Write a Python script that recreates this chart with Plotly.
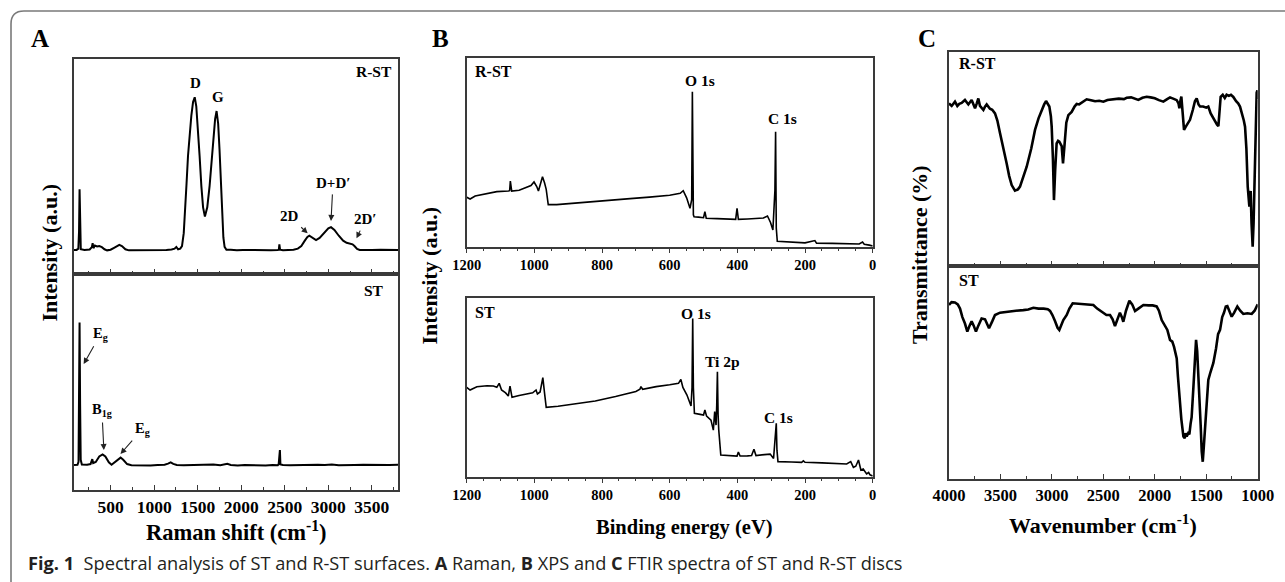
import plotly.graph_objects as go

# ---------------- data ----------------
# Panel A: Raman, R-ST (top) -- Raman shift (cm-1) / relative intensity
raman_rst_x = [80, 110, 130, 138, 144, 150, 158, 200, 260, 285,
               294, 303, 320, 345, 370, 400, 430, 460, 500, 540,
               580, 600, 630, 670, 710, 760, 820, 900, 980, 1060,
               1140, 1200, 1235, 1255, 1275, 1300, 1320, 1340, 1355, 1372,
               1389, 1408, 1427, 1447, 1466, 1484, 1503, 1522, 1542, 1562,
               1583, 1610, 1637, 1660, 1683, 1700, 1717, 1735, 1751, 1766,
               1781, 1795, 1809, 1830, 1880, 1950, 2020, 2100, 2180, 2260,
               2340, 2420, 2432, 2438, 2446, 2480, 2540, 2600, 2650, 2690,
               2730, 2760, 2782, 2810, 2859, 2900, 2950, 3000, 3031, 3070,
               3120, 3170, 3210, 3250, 3278, 3300, 3330, 3360, 3420, 3500,
               3600, 3700, 3800]
raman_rst_y = [0.112, 0.112, 0.118, 0.200, 0.394, 0.200, 0.115, 0.112, 0.114, 0.125,
               0.143, 0.120, 0.132, 0.128, 0.130, 0.125, 0.115, 0.110, 0.113, 0.122,
               0.133, 0.136, 0.130, 0.115, 0.110, 0.110, 0.112, 0.111, 0.113, 0.110,
               0.112, 0.114, 0.118, 0.126, 0.115, 0.118, 0.130, 0.190, 0.280, 0.420,
               0.550, 0.660, 0.735, 0.800, 0.822, 0.780, 0.685, 0.550, 0.410, 0.310,
               0.267, 0.310, 0.410, 0.530, 0.630, 0.720, 0.758, 0.700, 0.577, 0.420,
               0.270, 0.170, 0.126, 0.113, 0.113, 0.110, 0.112, 0.111, 0.113, 0.112,
               0.111, 0.112, 0.113, 0.138, 0.113, 0.111, 0.112, 0.113, 0.118, 0.130,
               0.155, 0.172, 0.178, 0.172, 0.158, 0.168, 0.190, 0.212, 0.218, 0.205,
               0.178, 0.155, 0.145, 0.140, 0.138, 0.130, 0.117, 0.112, 0.111, 0.112,
               0.113, 0.111, 0.112]

# Panel A: Raman, ST (bottom)
raman_st_x = [80, 120, 132, 138, 144, 150, 157, 170, 230, 270,
              290, 300, 330, 370, 408, 440, 480, 511, 550, 590,
              615, 645, 690, 740, 800, 880, 960, 1040, 1120, 1160,
              1190, 1220, 1260, 1340, 1420, 1500, 1600, 1680, 1760, 1840,
              1880, 1960, 2040, 2120, 2200, 2280, 2360, 2420, 2430, 2436,
              2444, 2450, 2480, 2560, 2640, 2720, 2800, 2880, 2960, 3040,
              3120, 3200, 3300, 3400, 3500, 3600, 3700, 3800]
raman_st_y = [0.116, 0.117, 0.130, 0.400, 0.775, 0.400, 0.140, 0.118, 0.117, 0.120,
              0.143, 0.125, 0.130, 0.155, 0.165, 0.155, 0.128, 0.117, 0.130, 0.146,
              0.150, 0.140, 0.120, 0.115, 0.114, 0.116, 0.114, 0.116, 0.117, 0.122,
              0.128, 0.121, 0.116, 0.115, 0.116, 0.114, 0.116, 0.118, 0.115, 0.121,
              0.116, 0.114, 0.116, 0.115, 0.116, 0.114, 0.116, 0.115, 0.120, 0.185,
              0.185, 0.118, 0.116, 0.115, 0.116, 0.117, 0.119, 0.117, 0.116, 0.118,
              0.115, 0.117, 0.116, 0.117, 0.116, 0.118, 0.116, 0.117]

# Panel B: XPS, R-ST (top) -- binding energy (eV) / relative intensity
xps_rst_x = [1200, 1190, 1175, 1150, 1111, 1077, 1073, 1071, 1067, 1045,
             1023, 1010, 1001, 993, 988, 982, 976, 970, 965, 959,
             934, 880, 820, 760, 717, 660, 600, 569, 560, 550,
             540, 535, 533, 530, 528, 515, 500, 496, 492, 460,
             430, 405, 401, 397, 370, 340, 323, 311, 302, 295,
             289, 287, 285, 282, 250, 225, 200, 171, 166, 120,
             80, 40, 30, 25, 10, 0]
xps_rst_y = [0.263, 0.254, 0.270, 0.280, 0.293, 0.296, 0.298, 0.349, 0.296, 0.300,
             0.316, 0.325, 0.344, 0.320, 0.296, 0.330, 0.372, 0.340, 0.305, 0.224,
             0.224, 0.232, 0.242, 0.250, 0.256, 0.264, 0.274, 0.284, 0.298, 0.260,
             0.205, 0.250, 0.822, 0.170, 0.160, 0.158, 0.155, 0.187, 0.152, 0.150,
             0.148, 0.146, 0.205, 0.146, 0.148, 0.150, 0.153, 0.164, 0.130, 0.090,
             0.300, 0.610, 0.100, 0.030, 0.026, 0.025, 0.022, 0.034, 0.020, 0.019,
             0.017, 0.016, 0.026, 0.015, 0.010, 0.005]

# Panel B: XPS, ST (bottom)
xps_st_x = [1200, 1190, 1170, 1140, 1121, 1111, 1104, 1097, 1085, 1077,
            1072, 1066, 1045, 1023, 1005, 995, 991, 983, 975, 970,
            965, 930, 880, 820, 760, 700, 688, 685, 680, 640,
            600, 574, 567, 561, 549, 537, 534, 532, 530, 527,
            510, 500, 496, 491, 478, 474, 471, 467, 463, 461,
            459, 457, 455, 449, 430, 401, 397, 392, 370, 358,
            351, 345, 320, 303, 293, 288, 285, 283, 280, 240,
            210, 205, 200, 150, 100, 77, 65, 57, 50, 42,
            35, 28, 18, 12, 8, 0]
xps_st_y = [0.501, 0.486, 0.504, 0.510, 0.508, 0.501, 0.523, 0.486, 0.470, 0.452,
            0.508, 0.445, 0.455, 0.464, 0.470, 0.486, 0.464, 0.475, 0.555, 0.470,
            0.389, 0.395, 0.410, 0.425, 0.450, 0.478, 0.490, 0.505, 0.490, 0.505,
            0.515, 0.523, 0.545, 0.500, 0.458, 0.397, 0.500, 0.886, 0.500, 0.356,
            0.350, 0.346, 0.374, 0.340, 0.318, 0.290, 0.262, 0.365, 0.290, 0.400,
            0.588, 0.350, 0.262, 0.123, 0.120, 0.117, 0.140, 0.117, 0.118, 0.120,
            0.155, 0.120, 0.125, 0.128, 0.104, 0.200, 0.300, 0.150, 0.086, 0.084,
            0.082, 0.090, 0.082, 0.079, 0.076, 0.073, 0.086, 0.054, 0.060, 0.095,
            0.039, 0.045, 0.017, 0.025, 0.012, 0.006]

# Panel C: FTIR, R-ST (top) -- wavenumber (cm-1) / relative transmittance
ftir_rst_x = [4000, 3974, 3942, 3919, 3900, 3877, 3845, 3812, 3780, 3747,
              3730, 3715, 3699, 3666, 3650, 3634, 3602, 3580, 3553, 3530,
              3504, 3470, 3440, 3415, 3391, 3359, 3330, 3310, 3280, 3245,
              3200, 3164, 3130, 3099, 3075, 3057, 3040, 3025, 3010, 3002,
              2990, 2980, 2968, 2954, 2940, 2928, 2905, 2892, 2880, 2860,
              2840, 2808, 2780, 2759, 2735, 2711, 2690, 2662, 2620, 2580,
              2540, 2500, 2460, 2403, 2350, 2300, 2273, 2230, 2200, 2160,
              2120, 2079, 2040, 2000, 1960, 1917, 1880, 1852, 1810, 1787,
              1770, 1761, 1752, 1742, 1730, 1716, 1700, 1680, 1658, 1630,
              1610, 1593, 1575, 1560, 1530, 1500, 1480, 1457, 1420, 1395,
              1382, 1370, 1360, 1340, 1320, 1302, 1280, 1260, 1237, 1210,
              1190, 1172, 1150, 1135, 1123, 1110, 1097, 1088, 1081, 1074,
              1068, 1060, 1049, 1040, 1029, 1020, 1010, 1003, 1000]
ftir_rst_y = [0.760, 0.748, 0.768, 0.748, 0.758, 0.762, 0.776, 0.755, 0.776, 0.737,
              0.760, 0.783, 0.748, 0.729, 0.745, 0.755, 0.735, 0.730, 0.713, 0.680,
              0.620, 0.550, 0.480, 0.420, 0.378, 0.352, 0.358, 0.371, 0.410, 0.464,
              0.550, 0.636, 0.690, 0.729, 0.755, 0.771, 0.760, 0.745, 0.700, 0.651,
              0.500, 0.308, 0.450, 0.573, 0.585, 0.581, 0.560, 0.480, 0.550, 0.670,
              0.705, 0.720, 0.745, 0.757, 0.755, 0.762, 0.772, 0.779, 0.775, 0.770,
              0.772, 0.768, 0.776, 0.779, 0.782, 0.780, 0.786, 0.788, 0.782, 0.776,
              0.786, 0.791, 0.788, 0.784, 0.775, 0.768, 0.780, 0.788, 0.780, 0.775,
              0.760, 0.737, 0.770, 0.792, 0.720, 0.636, 0.650, 0.665, 0.683, 0.730,
              0.770, 0.783, 0.755, 0.745, 0.745, 0.740, 0.745, 0.713, 0.680, 0.660,
              0.654, 0.720, 0.791, 0.800, 0.785, 0.800, 0.795, 0.800, 0.790, 0.770,
              0.760, 0.745, 0.710, 0.680, 0.651, 0.550, 0.371, 0.300, 0.277, 0.340,
              0.350, 0.200, 0.090, 0.200, 0.400, 0.650, 0.810, 0.820, 0.780]

# Panel C: FTIR, ST (bottom)
ftir_st_x = [4000, 3975, 3942, 3915, 3893, 3870, 3845, 3822, 3800, 3780,
             3760, 3738, 3715, 3683, 3650, 3630, 3611, 3580, 3553, 3504,
             3450, 3407, 3350, 3278, 3230, 3180, 3130, 3080, 3040, 3018,
             2995, 2970, 2945, 2928, 2910, 2889, 2856, 2830, 2798, 2750,
             2700, 2650, 2597, 2560, 2516, 2470, 2435, 2410, 2387, 2365,
             2339, 2320, 2306, 2280, 2247, 2220, 2192, 2160, 2111, 2060,
             2020, 1982, 1960, 1933, 1900, 1878, 1852, 1830, 1813, 1800,
             1787, 1775, 1761, 1742, 1722, 1709, 1700, 1690, 1675, 1664,
             1652, 1642, 1625, 1610, 1599, 1588, 1577, 1565, 1554, 1544,
             1534, 1524, 1512, 1495, 1480, 1460, 1431, 1405, 1385, 1366,
             1345, 1328, 1310, 1295, 1275, 1253, 1230, 1198, 1170, 1140,
             1100, 1080, 1058, 1030, 1000]
ftir_st_y = [0.817, 0.830, 0.829, 0.820, 0.800, 0.760, 0.730, 0.692, 0.720, 0.740,
             0.720, 0.692, 0.720, 0.754, 0.750, 0.730, 0.708, 0.740, 0.770, 0.781,
             0.785, 0.789, 0.790, 0.793, 0.796, 0.804, 0.800, 0.800, 0.797, 0.789,
             0.770, 0.742, 0.710, 0.700, 0.720, 0.746, 0.770, 0.800, 0.825, 0.823,
             0.822, 0.820, 0.817, 0.800, 0.785, 0.770, 0.770, 0.750, 0.718, 0.750,
             0.781, 0.760, 0.738, 0.790, 0.837, 0.820, 0.789, 0.800, 0.817, 0.815,
             0.815, 0.810, 0.790, 0.746, 0.720, 0.700, 0.653, 0.645, 0.620, 0.590,
             0.566, 0.480, 0.386, 0.280, 0.199, 0.191, 0.215, 0.200, 0.215, 0.210,
             0.260, 0.290, 0.430, 0.580, 0.653, 0.600, 0.500, 0.350, 0.250, 0.130,
             0.081, 0.150, 0.250, 0.380, 0.465, 0.500, 0.545, 0.613, 0.680, 0.700,
             0.760, 0.780, 0.810, 0.812, 0.790, 0.762, 0.780, 0.810, 0.790, 0.775,
             0.778, 0.775, 0.775, 0.790, 0.820]

# tick positions
raman_ticks = [500, 1000, 1500, 2000, 2500, 3000, 3500]
xps_ticks = [1200, 1000, 800, 600, 400, 200, 0]
ftir_ticks = [4000, 3500, 3000, 2500, 2000, 1500, 1000]

caption_text = ("<b>Fig. 1</b>  Spectral analysis of ST and R-ST surfaces. <b>A</b> Raman, "
                "<b>B</b> XPS and <b>C</b> FTIR spectra of ST and R-ST discs")

# ---------------- layout helpers ----------------
W, H = 1285, 582
SERIF = "Liberation Serif, Times New Roman, serif"
AX_COLOR = "#3a3a3a"


def fx(p):
    return p / W


def fy(p):
    return 1 - p / H


fig = go.Figure()

series = [
    (raman_rst_x, raman_rst_y, "x", "y", 2.0),
    (raman_st_x, raman_st_y, "x2", "y2", 2.0),
    (xps_rst_x, xps_rst_y, "x3", "y3", 1.6),
    (xps_st_x, xps_st_y, "x4", "y4", 1.6),
    (ftir_rst_x, ftir_rst_y, "x5", "y5", 2.6),
    (ftir_st_x, ftir_st_y, "x6", "y6", 2.6),
]
for xs, ys, xa, ya, lw in series:
    assert len(xs) == len(ys)
    fig.add_trace(go.Scatter(x=xs, y=ys, xaxis=xa, yaxis=ya, mode="lines",
                             line=dict(color="black", width=lw, shape="linear"),
                             showlegend=False, hoverinfo="skip"))


def xaxis_cfg(dom, rng, anchor, tickvals, ticks, show_labels, fsize, minor_dtick):
    return dict(domain=dom, range=rng, anchor=anchor, showline=True, mirror=True,
                linecolor=AX_COLOR, linewidth=1.5, showgrid=False, zeroline=False,
                tickmode="array", tickvals=tickvals, ticks=ticks, ticklen=5,
                tickwidth=1.2, tickcolor=AX_COLOR, showticklabels=show_labels,
                tickfont=dict(family=SERIF, size=fsize, color="black", weight="bold"),
                minor=dict(dtick=minor_dtick, tick0=0, ticks=ticks, ticklen=3,
                           tickwidth=1.2, tickcolor=AX_COLOR, showgrid=False))


def yaxis_cfg(dom, anchor):
    return dict(domain=dom, range=[0, 1], anchor=anchor, showline=True, mirror=True,
                linecolor=AX_COLOR, linewidth=1.5, showgrid=False, zeroline=False,
                ticks="", showticklabels=False)


# pixel boxes of the six plot areas
A_dom = [fx(74), fx(398)]
A_top = [fy(274), fy(59)]
A_bot = [fy(490), fy(274)]
B_dom = [fx(466.7), fx(872.7)]
B_top = [fy(247), fy(58)]
B_bot = [fy(477), fy(298)]
C_dom = [fx(949), fx(1257.7)]
C_top = [fy(266), fy(52)]
C_bot = [fy(479), fy(266)]

fig.update_layout(
    width=W, height=H, margin=dict(l=0, r=0, t=0, b=0, pad=0, autoexpand=False),
    autosize=False,
    paper_bgcolor="white", plot_bgcolor="white", showlegend=False,
    xaxis=xaxis_cfg(A_dom, [80, 3800], "y", raman_ticks, "inside", False, 17, 250),
    yaxis=yaxis_cfg(A_top, "x"),
    xaxis2=xaxis_cfg(A_dom, [80, 3800], "y2", raman_ticks, "inside", True, 17.5, 250),
    yaxis2=yaxis_cfg(A_bot, "x2"),
    xaxis3=xaxis_cfg(B_dom, [1200, 0], "y3", xps_ticks, "outside", True, 14.5, 50),
    yaxis3=yaxis_cfg(B_top, "x3"),
    xaxis4=xaxis_cfg(B_dom, [1200, 0], "y4", xps_ticks, "outside", True, 14.5, 50),
    yaxis4=yaxis_cfg(B_bot, "x4"),
    xaxis5=xaxis_cfg(C_dom, [4000, 1000], "y5", ftir_ticks, "inside", False, 16.5, 250),
    yaxis5=yaxis_cfg(C_top, "x5"),
    xaxis6=xaxis_cfg(C_dom, [4000, 1000], "y6", ftir_ticks, "inside", True, 16.5, 250),
    yaxis6=yaxis_cfg(C_bot, "x6"),
)
for k in ["xaxis3", "xaxis4"]:
    fig.layout[k].ticklen = 4
    fig.layout[k].minor.ticklen = 2.5

ann = []


def ptext(text, x, y, size, xanchor="center", angle=0, family=SERIF, bold=True,
          color="black"):
    ann.append(dict(text=(f"<b>{text}</b>" if bold else text), x=fx(x), y=fy(y),
                    xref="paper", yref="paper", showarrow=False, xanchor=xanchor,
                    yanchor="middle", textangle=angle,
                    font=dict(family=family, size=size, color=color)))


def dtext(text, x, y, xa, ya, size):
    ann.append(dict(text=f"<b>{text}</b>", x=x, y=y, xref=xa, yref=ya, showarrow=False,
                    xanchor="center", yanchor="middle",
                    font=dict(family=SERIF, size=size, color="black")))


def label_arrow(text, x, y, xa, ya, ax, ay, size):
    # arrow tip at the data point (x, y); label centred ax, ay pixels away
    ann.append(dict(text=f"<b>{text}</b>", x=x, y=y, xref=xa, yref=ya, showarrow=True,
                    ax=ax, ay=ay, arrowhead=2, arrowsize=1.1, arrowwidth=1.1,
                    arrowcolor="#222", standoff=0, startstandoff=2,
                    font=dict(family=SERIF, size=size, color="black")))


# panel letters
ptext("A", 40, 39, 25)
ptext("B", 440.5, 38.5, 25)
ptext("C", 927, 38.5, 25)

# axis titles
ptext("Intensity (a.u.)", 49, 252.5, 22, angle=-90)
ptext("Raman shift (cm<sup>-1</sup>)", 236, 531, 22.5)
ptext("Intensity (a.u.)", 428.5, 276, 22, angle=-90)
ptext("Binding energy (eV)", 684, 527, 20.5)
ptext("Transmittance (%)", 919, 255, 22, angle=-90)
ptext("Wavenumber (cm<sup>-1</sup>)", 1102.5, 524, 22)

# panel A labels
ptext("R-ST", 394, 71, 15.5, xanchor="right")
ptext("ST", 386, 290, 15.5, xanchor="right")
dtext("D", 1477, 0.89, "x", "y", 15)
dtext("G", 1732, 0.822, "x", "y", 15)
label_arrow("D+D\u2032", 3031, 0.247, "x", "y", 2, -38, 15)
label_arrow("2D", 2763, 0.189, "x", "y", -18, -17, 15)
label_arrow("2D\u2032", 3324, 0.166, "x", "y", 9, -19, 15)
label_arrow("E<sub>g</sub>", 191, 0.583, "x2", "y2", 17, -30, 14.5)
label_arrow("B<sub>1g</sub>", 423, 0.185, "x2", "y2", -2, -40, 14.5)
label_arrow("E<sub>g</sub>", 614, 0.167, "x2", "y2", 22, -25, 14.5)

# panel B labels
ptext("R-ST", 473, 71, 16, xanchor="left")
ptext("O 1s", 700, 81, 15.5)
ptext("C 1s", 783, 118.5, 15.5)
ptext("ST", 473, 312, 16, xanchor="left")
ptext("O 1s", 696, 313.5, 15.5)
ptext("Ti 2p", 722, 361, 15.5)
ptext("C 1s", 779, 417.5, 15.5)

# panel C labels
ptext("R-ST", 957, 63.5, 16, xanchor="left")
ptext("ST", 957, 280, 16, xanchor="left")

# caption
ann.append(dict(text=caption_text, x=fx(26), y=fy(563), xref="paper", yref="paper",
                showarrow=False, xanchor="left", yanchor="middle",
                font=dict(family="Open Sans, Noto Sans, sans-serif", size=18.2,
                          color="#231f20")))

fig.update_layout(annotations=ann)

# outer frame (top and left edges with rounded corner)
fig.add_shape(type="path", xref="paper", yref="paper",
              path=f"M 1,{fy(11)} L {fx(24)},{fy(11)} Q {fx(11)},{fy(11)} {fx(11)},{fy(24)} L {fx(11)},0",
              line=dict(color="#7a7a7a", width=1.6))

fig.write_html("out.html", config={"displayModeBar": False},
               post_script="document.body.style.margin='0';document.body.style.overflow='hidden';")
